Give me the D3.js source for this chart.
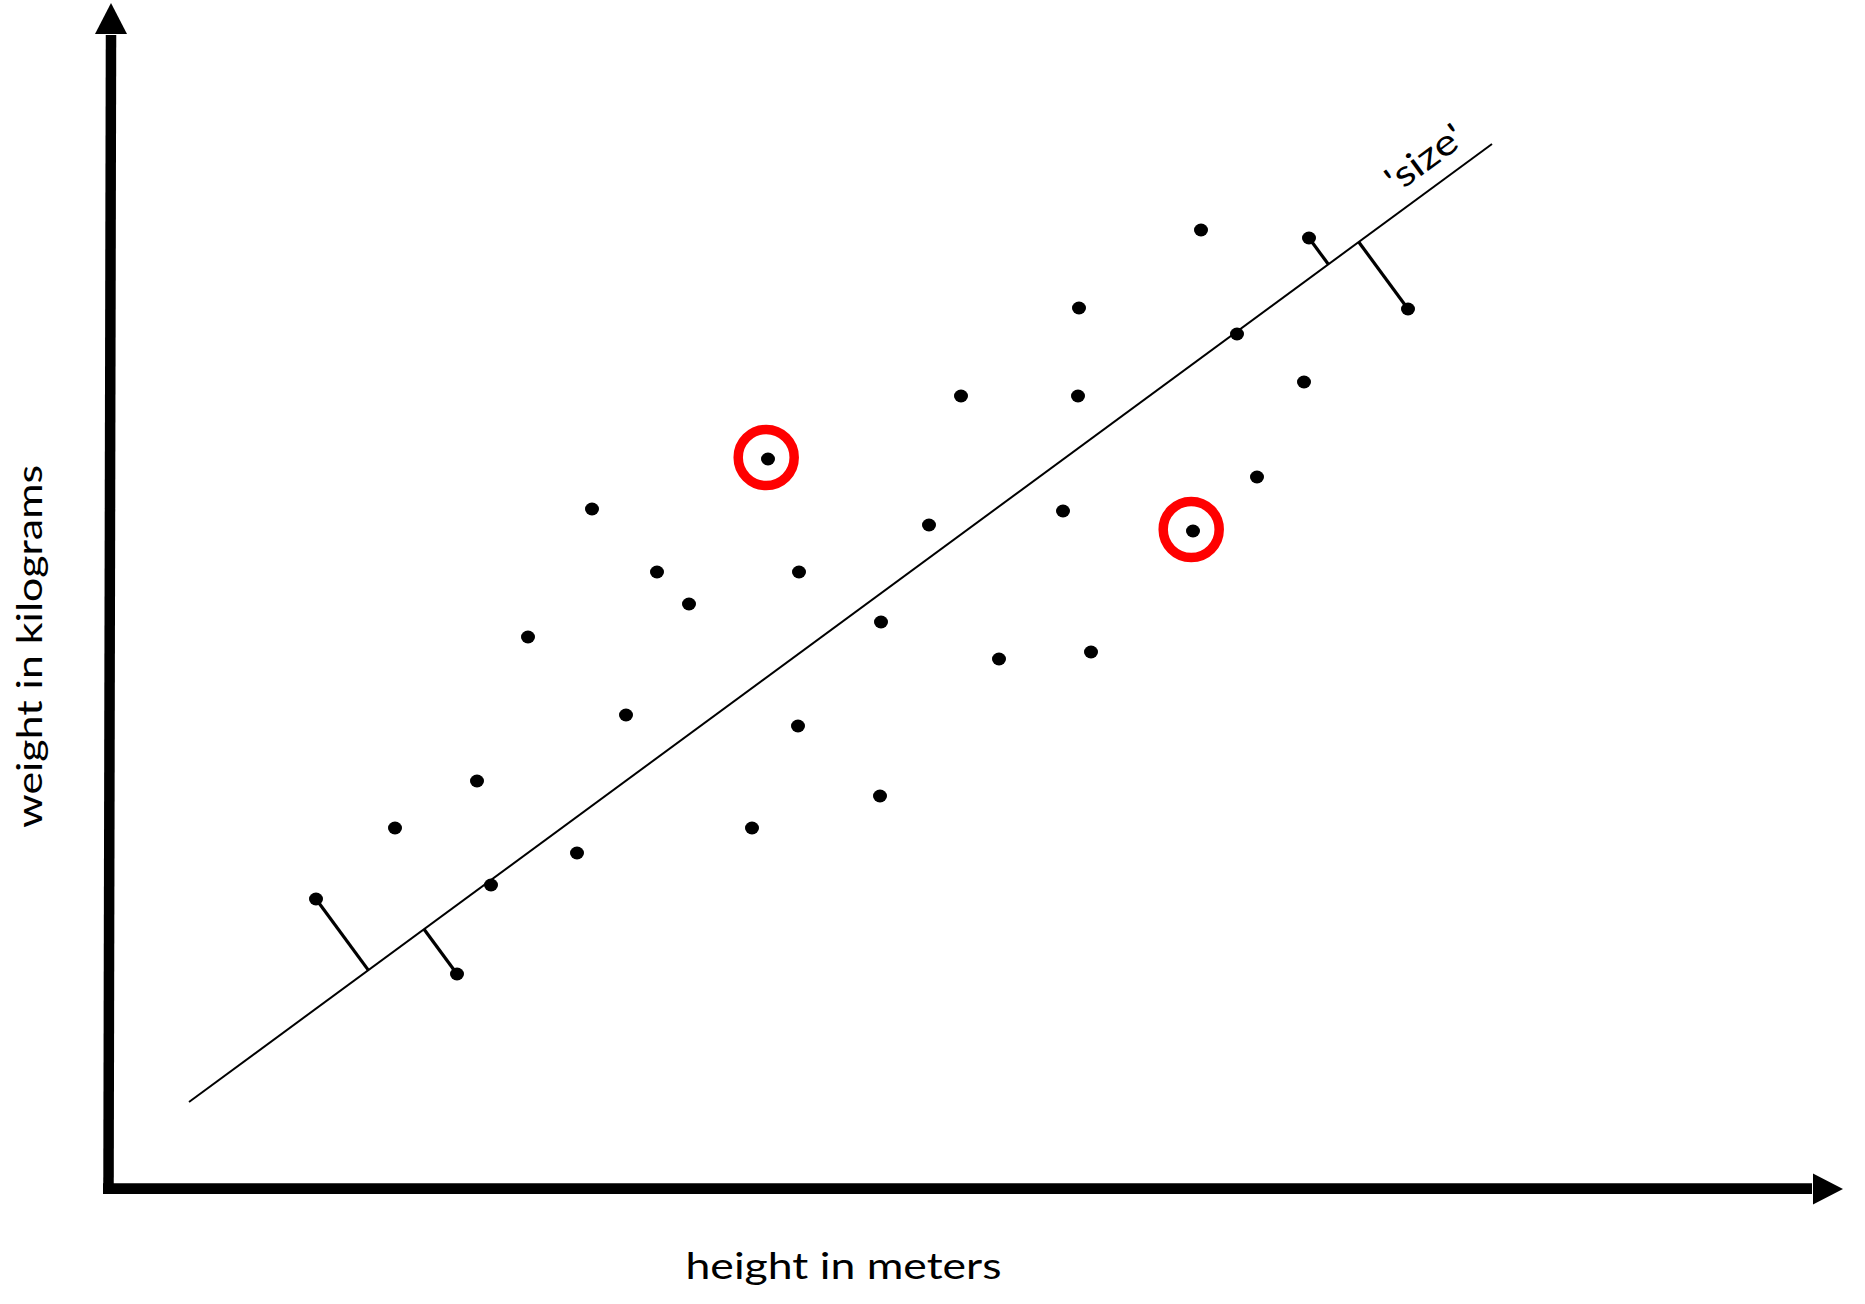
<!DOCTYPE html>
<html><head><meta charset="utf-8">
<script src="https://cdn.jsdelivr.net/npm/d3@7"></script>
<style>html,body{margin:0;padding:0;background:#fff;}svg{display:block;}</style>
</head><body>
<svg id="chart" width="1865" height="1304"></svg>
<script>
// data (abstract units: height & weight offsets)
const heights = [207,348,286,368,382,419,468,483,517,548,580,643,659,690,689,772,771,820,852,890,954,969,970,982,1084,1092,1128,1148,1195,1200,1299];
const weights = [289,214,360,407,303,551,335,679,473,616,584,360,729,616,462,566,392,663,792,529,677,792,880,536,657,958,854,711,806,950,879];
const highlighted = [12,24];
const residualIdx = [0,1,29,30];
const fitLineH = [80,1383];
const fitLineW = [86,1044];
const xLabel = "height in meters";
const yLabel = "weight in kilograms";
const lineLabel = "'size'";

const svg = d3.select("#chart");
const x = d3.scaleLinear().domain([0,1734]).range([109,1843]);
const y = d3.scaleLinear().domain([0,1185]).range([1188,3]);
const FONT = "Lato, 'Open Sans', sans-serif";

// axes
svg.append("line").attr("x1",x(0)-0.5).attr("y1",y(0)+6).attr("x2",x(0)+2).attr("y2",y(1185)+32)
  .attr("stroke","#000").attr("stroke-width",10.5);
svg.append("path").attr("d",`M${x(0)+2},${y(1185)} L${x(0)+2-16},${y(1185)+31} L${x(0)+2+16},${y(1185)+31}Z`).attr("fill","#000");
svg.append("line").attr("x1",x(0)-6).attr("y1",y(0)+0.7).attr("x2",x(1734)-31).attr("y2",y(0)+0.7)
  .attr("stroke","#000").attr("stroke-width",10.7);
svg.append("path").attr("d",`M${x(1734)},${y(0)+1} L${x(1734)-30},${y(0)+1-15.5} L${x(1734)-30},${y(0)+1+15.5}Z`).attr("fill","#000");

// fit line
const p1=[x(fitLineH[0]),y(fitLineW[0])], p2=[x(fitLineH[1]),y(fitLineW[1])];
svg.append("line").attr("x1",p1[0]).attr("y1",p1[1]).attr("x2",p2[0]).attr("y2",p2[1])
  .attr("stroke","#000").attr("stroke-width",2);

// residuals (perpendicular projections)
const dx=p2[0]-p1[0], dy=p2[1]-p1[1], L2=dx*dx+dy*dy;
residualIdx.forEach(i=>{
  const px=x(heights[i]), py=y(weights[i]);
  const t=((px-p1[0])*dx+(py-p1[1])*dy)/L2;
  svg.append("line").attr("x1",px).attr("y1",py).attr("x2",p1[0]+t*dx).attr("y2",p1[1]+t*dy)
    .attr("stroke","#000").attr("stroke-width",3.2);
});

// points
svg.selectAll("ellipse.pt").data(heights.map((h,i)=>({h,w:weights[i]}))).join("ellipse")
  .attr("class","pt").attr("cx",d=>x(d.h)).attr("cy",d=>y(d.w)).attr("rx",7).attr("ry",6.5).attr("fill","#000");

// highlight rings
highlighted.forEach(i=>{
  svg.append("circle").attr("cx",x(heights[i])-1.8).attr("cy",y(weights[i])-1.5).attr("r",28)
    .attr("fill","none").attr("stroke","#ff0000").attr("stroke-width",9.5);
});

// labels
svg.append("text").attr("x",843.5).attr("y",1279).attr("text-anchor","middle")
  .attr("font-family",FONT).attr("font-size",37).attr("fill","#000")
  .attr("textLength",316).attr("lengthAdjust","spacingAndGlyphs").text(xLabel);
svg.append("text").attr("transform","translate(42,646.5) rotate(-90)").attr("text-anchor","middle")
  .attr("font-family",FONT).attr("font-size",35).attr("fill","#000")
  .attr("textLength",363).attr("lengthAdjust","spacingAndGlyphs").text(yLabel);
const ang=Math.atan2(dy,dx)*180/Math.PI;
svg.append("text").attr("transform",`translate(1432,168) rotate(${ang})`).attr("text-anchor","middle")
  .attr("font-family",FONT).attr("font-size",36).attr("fill","#000")
  .attr("textLength",88).attr("lengthAdjust","spacingAndGlyphs").text(lineLabel);
</script>
</body></html>
